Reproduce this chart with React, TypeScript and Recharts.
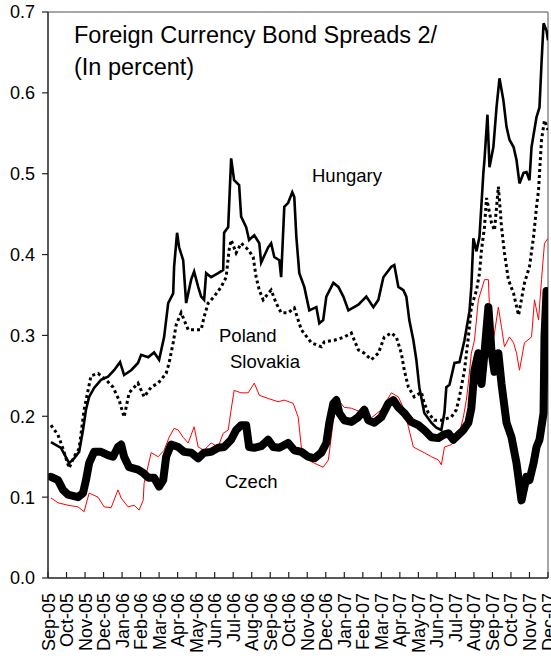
import { LineChart, Line, XAxis, YAxis, ReferenceLine } from "recharts";

// month labels on the date axis, index 0 = Sep-05
const months = [
  "Sep-05", "Oct-05", "Nov-05", "Dec-05", "Jan-06", "Feb-06", "Mar-06",
  "Apr-06", "May-06", "Jun-06", "Jul-06", "Aug-06", "Sep-06", "Oct-06",
  "Nov-06", "Dec-06", "Jan-07", "Feb-07", "Mar-07", "Apr-07", "May-07",
  "Jun-07", "Jul-07", "Aug-07", "Sep-07", "Oct-07", "Nov-07", "Dec-07",
];
const yTicks = [0, 0.1, 0.2, 0.3, 0.4, 0.5, 0.6, 0.7];

// [months since Sep-05, spread in percent]
const hungary: [number, number][] = [
  [0.16, 0.168], [0.7, 0.161], [1.14, 0.142], [1.41, 0.148], [1.68, 0.156], [1.89, 0.183],
  [2.05, 0.208], [2.22, 0.224], [2.49, 0.235], [2.86, 0.245], [3.24, 0.249], [3.57, 0.257],
  [3.89, 0.267], [4.11, 0.251], [4.49, 0.257], [4.86, 0.266], [5.03, 0.276], [5.41, 0.273],
  [5.73, 0.279], [6.0, 0.27], [6.27, 0.298], [6.49, 0.34], [6.76, 0.352], [6.81, 0.385],
  [6.97, 0.427], [7.08, 0.409], [7.3, 0.393], [7.46, 0.34], [7.73, 0.369], [7.89, 0.379],
  [8.11, 0.36], [8.27, 0.348], [8.43, 0.344], [8.54, 0.377], [8.81, 0.372], [9.19, 0.377],
  [9.46, 0.381], [9.51, 0.427], [9.73, 0.434], [9.89, 0.519], [10.05, 0.492], [10.32, 0.486],
  [10.43, 0.447], [10.7, 0.434], [10.86, 0.418], [11.14, 0.424], [11.41, 0.414], [11.51, 0.39],
  [11.89, 0.409], [12.05, 0.414], [12.22, 0.397], [12.49, 0.393], [12.59, 0.372], [12.76, 0.459],
  [12.97, 0.464], [13.19, 0.477], [13.3, 0.471], [13.41, 0.422], [13.57, 0.377], [13.84, 0.36],
  [14.11, 0.331], [14.49, 0.335], [14.65, 0.315], [14.86, 0.319], [15.03, 0.348], [15.41, 0.365],
  [15.68, 0.36], [15.95, 0.348], [16.22, 0.331], [16.76, 0.338], [17.19, 0.348], [17.57, 0.335],
  [17.84, 0.344], [18.11, 0.372], [18.54, 0.385], [18.7, 0.387], [18.92, 0.36], [19.19, 0.356],
  [19.35, 0.348], [19.51, 0.319], [19.73, 0.294], [19.89, 0.27], [20.05, 0.236], [20.32, 0.204],
  [20.7, 0.192], [20.97, 0.186], [21.24, 0.183], [21.41, 0.205], [21.51, 0.236], [21.68, 0.239],
  [21.95, 0.266], [22.22, 0.267], [22.49, 0.294], [22.76, 0.33], [22.86, 0.36], [22.97, 0.42],
  [23.14, 0.404], [23.3, 0.422], [23.51, 0.501], [23.57, 0.517], [23.73, 0.573], [23.84, 0.508],
  [24.05, 0.533], [24.22, 0.582], [24.38, 0.618], [24.59, 0.591], [24.76, 0.558], [24.92, 0.542],
  [25.14, 0.533], [25.3, 0.517], [25.46, 0.488], [25.68, 0.501], [25.84, 0.502], [26.0, 0.492],
  [26.11, 0.533], [26.38, 0.57], [26.54, 0.582], [26.65, 0.637], [26.76, 0.686], [26.92, 0.677],
  [27, 0.665],
];

const poland: [number, number][] = [
  [0.16, 0.189], [0.54, 0.177], [0.81, 0.16], [1.14, 0.136], [1.41, 0.15], [1.68, 0.16],
  [1.95, 0.208], [2.32, 0.25], [2.7, 0.253], [3.14, 0.245], [3.51, 0.236], [3.84, 0.22],
  [4.11, 0.199], [4.38, 0.229], [4.86, 0.241], [5.19, 0.224], [5.57, 0.236], [5.95, 0.241],
  [6.38, 0.253], [6.54, 0.266], [6.76, 0.291], [6.92, 0.313], [7.19, 0.328], [7.57, 0.307],
  [7.89, 0.307], [8.27, 0.307], [8.43, 0.323], [8.65, 0.34], [8.97, 0.348], [9.35, 0.36],
  [9.62, 0.372], [9.78, 0.406], [9.89, 0.418], [10.16, 0.402], [10.43, 0.414], [10.81, 0.406],
  [11.08, 0.397], [11.24, 0.372], [11.41, 0.356], [11.62, 0.344], [11.89, 0.352], [12.05, 0.356],
  [12.32, 0.34], [12.59, 0.328], [12.97, 0.328], [13.3, 0.334], [13.68, 0.307], [14.22, 0.291],
  [14.76, 0.286], [14.92, 0.292], [15.46, 0.294], [16.0, 0.298], [16.38, 0.303], [16.76, 0.282],
  [17.08, 0.278], [17.46, 0.27], [17.84, 0.278], [18.16, 0.298], [18.54, 0.303], [18.81, 0.298],
  [19.08, 0.278], [19.24, 0.257], [19.46, 0.236], [19.78, 0.224], [20.16, 0.23], [20.32, 0.216],
  [20.54, 0.204], [20.86, 0.195], [21.24, 0.195], [21.78, 0.199], [22.05, 0.208], [22.22, 0.224],
  [22.49, 0.257], [22.7, 0.298], [22.86, 0.335], [23.14, 0.356], [23.3, 0.377], [23.41, 0.406],
  [23.57, 0.434], [23.68, 0.47], [23.78, 0.459], [23.95, 0.439], [24.11, 0.43], [24.32, 0.484],
  [24.38, 0.467], [24.49, 0.434], [24.65, 0.402], [24.86, 0.369], [25.14, 0.352], [25.41, 0.325],
  [25.57, 0.345], [25.73, 0.365], [26.0, 0.385], [26.22, 0.422], [26.38, 0.459], [26.49, 0.48],
  [26.65, 0.542], [26.81, 0.566], [27, 0.554],
];

const slovakia: [number, number][] = [
  [0.16, 0.099], [0.54, 0.093], [1.08, 0.09], [1.62, 0.088], [1.95, 0.082], [2.22, 0.105],
  [2.7, 0.1], [3.03, 0.088], [3.41, 0.087], [3.78, 0.109], [3.95, 0.099], [4.32, 0.088],
  [4.65, 0.09], [4.92, 0.084], [5.14, 0.096], [5.19, 0.117], [5.57, 0.155], [5.95, 0.15],
  [6.27, 0.158], [6.54, 0.174], [6.81, 0.185], [7.03, 0.183], [7.3, 0.174], [7.57, 0.167],
  [7.89, 0.187], [8.11, 0.162], [8.43, 0.158], [8.81, 0.167], [9.19, 0.162], [9.46, 0.179],
  [9.73, 0.183], [9.89, 0.208], [10.05, 0.232], [10.43, 0.229], [10.81, 0.229], [11.14, 0.241],
  [11.41, 0.226], [11.89, 0.222], [12.43, 0.218], [12.76, 0.22], [13.24, 0.216], [13.51, 0.199],
  [13.68, 0.162], [14.05, 0.146], [14.38, 0.142], [14.86, 0.137], [15.14, 0.146], [15.41, 0.195],
  [15.68, 0.22], [16.0, 0.211], [16.38, 0.21], [16.92, 0.205], [17.46, 0.198], [18.0, 0.208],
  [18.54, 0.229], [18.92, 0.224], [19.24, 0.208], [19.46, 0.187], [19.73, 0.162], [20.05, 0.158],
  [20.32, 0.155], [20.7, 0.15], [21.08, 0.146], [21.24, 0.14], [21.41, 0.162], [21.78, 0.165],
  [22.16, 0.174], [22.43, 0.199], [22.59, 0.22], [22.7, 0.241], [22.86, 0.278], [23.03, 0.294],
  [23.24, 0.344], [23.57, 0.369], [23.78, 0.369], [23.84, 0.335], [24.05, 0.294], [24.32, 0.335],
  [24.49, 0.31], [24.65, 0.286], [24.92, 0.298], [25.14, 0.291], [25.3, 0.278], [25.46, 0.257],
  [25.73, 0.291], [26.11, 0.298], [26.27, 0.344], [26.49, 0.319], [26.65, 0.369], [26.81, 0.414],
  [27, 0.42],
];

const czech: [number, number][] = [
  [0.16, 0.125], [0.54, 0.121], [0.81, 0.109], [1.08, 0.103], [1.62, 0.1], [1.89, 0.105],
  [2.05, 0.121], [2.22, 0.142], [2.49, 0.156], [2.86, 0.156], [3.24, 0.152], [3.51, 0.15],
  [3.78, 0.162], [3.95, 0.165], [4.11, 0.15], [4.38, 0.137], [4.86, 0.134], [5.14, 0.13],
  [5.41, 0.124], [5.73, 0.124], [6.0, 0.113], [6.22, 0.121], [6.38, 0.15], [6.65, 0.165],
  [7.03, 0.162], [7.35, 0.156], [7.73, 0.155], [8.11, 0.148], [8.43, 0.155], [8.81, 0.156],
  [9.19, 0.161], [9.51, 0.162], [9.89, 0.171], [10.16, 0.183], [10.43, 0.189], [10.7, 0.189],
  [10.86, 0.162], [11.14, 0.161], [11.51, 0.163], [11.89, 0.171], [12.16, 0.162], [12.49, 0.161],
  [12.97, 0.167], [13.3, 0.158], [13.68, 0.156], [14.05, 0.15], [14.38, 0.148], [14.76, 0.155],
  [15.03, 0.167], [15.19, 0.192], [15.41, 0.216], [15.57, 0.22], [15.73, 0.204], [16.0, 0.195],
  [16.38, 0.193], [16.76, 0.199], [17.08, 0.208], [17.3, 0.195], [17.62, 0.192], [18.0, 0.199],
  [18.38, 0.216], [18.65, 0.22], [18.92, 0.211], [19.24, 0.204], [19.62, 0.193], [20.0, 0.189],
  [20.32, 0.183], [20.7, 0.174], [21.08, 0.173], [21.35, 0.177], [21.62, 0.179], [21.89, 0.171],
  [22.16, 0.177], [22.43, 0.183], [22.7, 0.192], [22.86, 0.21], [23.03, 0.257], [23.24, 0.278],
  [23.41, 0.24], [23.57, 0.278], [23.78, 0.335], [23.95, 0.28], [24.11, 0.255], [24.32, 0.278],
  [24.49, 0.24], [24.76, 0.192], [25.03, 0.174], [25.3, 0.142], [25.57, 0.096], [25.84, 0.125],
  [26.0, 0.121], [26.22, 0.142], [26.38, 0.162], [26.54, 0.171], [26.76, 0.204], [26.81, 0.298],
  [26.92, 0.355], [27, 0.345],
];

const FONT = "'Liberation Sans', Arial, sans-serif";
const toRows = (s: [number, number][]) => s.map(([t, v]) => ({ t, v }));

function MonthTick(props: any) {
  const { x, y, payload } = props;
  return (
    <g>
      <line x1={x} y1={y} x2={x} y2={y - 6} stroke="#222" strokeWidth={1.2} />
      <text
        transform={`translate(${x + 6.5},${y + 15}) rotate(-90)`}
        textAnchor="end"
        fontSize={18}
        fontFamily={FONT}
        fill="#000"
      >
        {months[payload.value]}
      </text>
    </g>
  );
}

const label = (top: number, left: number, size: number): React.CSSProperties => ({
  position: "absolute",
  top,
  left,
  fontSize: size,
  lineHeight: 1,
  fontFamily: FONT,
  color: "#000",
  whiteSpace: "nowrap",
});

export default function App() {
  return (
    <div style={{ position: "relative", width: 551, height: 659, background: "#fff", overflow: "hidden" }}>
      <style>{`body{margin:0}`}</style>
      <LineChart width={551} height={659} margin={{ top: 12, right: 3, bottom: 0, left: 0 }}>
        <XAxis
          type="number"
          dataKey="t"
          domain={[0, 27]}
          allowDataOverflow
          ticks={months.map((_, i) => i)}
          interval={0}
          tick={<MonthTick />}
          tickLine={false}
          tickSize={0}
          tickMargin={0}
          height={81}
          axisLine={{ stroke: "#222", strokeWidth: 1.5 }}
        />
        <YAxis
          type="number"
          domain={[0, 0.7]}
          ticks={yTicks}
          interval={0}
          width={48}
          tickSize={6}
          tickMargin={7}
          tickFormatter={(v: number) => v.toFixed(1)}
          tick={{ fontSize: 18, fontFamily: FONT, fill: "#000" }}
          tickLine={{ stroke: "#222", strokeWidth: 1.2 }}
          axisLine={{ stroke: "#222", strokeWidth: 1.5 }}
        />
        <ReferenceLine y={0.7} stroke="#888" strokeWidth={1.5} />
        <ReferenceLine x={27} stroke="#888" strokeWidth={1.5} />
        <Line
          data={toRows(slovakia)}
          dataKey="v"
          type="linear"
          stroke="#ff0000"
          strokeWidth={1}
          dot={false}
          activeDot={false}
          isAnimationActive={false}
        />
        <Line
          data={toRows(poland)}
          dataKey="v"
          type="linear"
          stroke="#000"
          strokeWidth={3}
          strokeDasharray="3 3"
          dot={false}
          activeDot={false}
          isAnimationActive={false}
        />
        <Line
          data={toRows(hungary)}
          dataKey="v"
          type="linear"
          stroke="#000"
          strokeWidth={2.6}
          dot={false}
          activeDot={false}
          isAnimationActive={false}
        />
        <Line
          data={toRows(czech)}
          dataKey="v"
          type="linear"
          stroke="#000"
          strokeWidth={8}
          strokeLinejoin="round"
          strokeLinecap="round"
          dot={false}
          activeDot={false}
          isAnimationActive={false}
        />
      </LineChart>
      <div style={label(24, 74, 23.5)}>Foreign Currency Bond Spreads 2/</div>
      <div style={label(56, 74, 23.5)}>(In percent)</div>
      <div style={label(167, 312, 18.5)}>Hungary</div>
      <div style={label(327, 219, 18.5)}>Poland</div>
      <div style={label(353, 230, 18.5)}>Slovakia</div>
      <div style={label(473, 225, 18.5)}>Czech</div>
    </div>
  );
}
